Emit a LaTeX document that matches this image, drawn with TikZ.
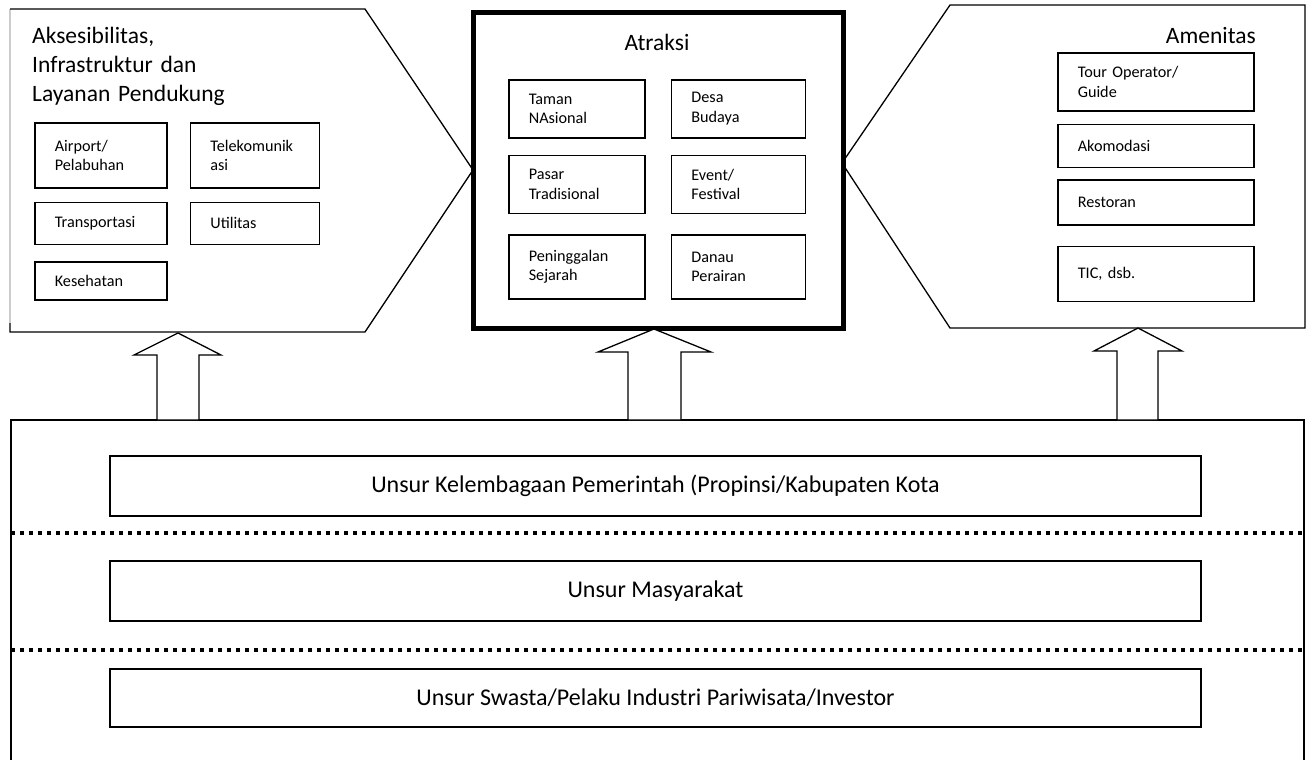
\documentclass[tikz,border=0pt]{standalone}
\usepackage{fontspec}
\setmainfont{Carlito}
\usetikzlibrary{positioning}

\begin{document}
\begin{tikzpicture}[
  x=1pt, y=-1pt,
  big/.style={font=\fontsize{23.5}{29}\selectfont, inner sep=0pt},
  item/.style 2 args={draw, line width=1.6pt, anchor=north west, minimum width=#1, minimum height=#2, text width=#1-40pt, inner xsep=20pt, inner ysep=0pt, align=left, font=\fontsize{16.2}{19.5}\selectfont},
  bar/.style={draw, line width=1.6pt, minimum width=1091pt, minimum height=#1, inner sep=0pt, font=\fontsize{24}{28}\selectfont},
  edge/.style={line width=1.3pt, line join=miter},
  dots/.style={line width=4pt, dash pattern=on 4pt off 5pt},
  blockarr/.style={draw, fill=white, line width=1.3pt, line join=miter},
]
  \useasboundingbox (0,0) rectangle (1312,760);

  % side panels
  \draw[edge, black!20] (10,9) -- (10,323);
  \draw[edge] (10,323) -- (10,332) -- (365,332) -- (473,170) -- (365,9) -- (10,9);
  \draw[edge] (842,163) -- (950,5) -- (1305,5) -- (1305,328) -- (950,328) -- cycle;

  % Atraksi
  \node[draw, line width=5pt, minimum width=370pt, minimum height=315pt, anchor=north west, inner sep=0pt, outer sep=0pt] (atr) at (473,13) {};
  \node[big, anchor=base] (atrtitle) at (657,51) {Atraksi};
  \node[item={136pt}{58pt}] (taman) at (508,79) {Taman\\NAsional};
  \node[item={134pt}{58pt}, right=25pt of taman] (desa) {Desa\\Budaya};
  \node[item={136pt}{58pt}, below=16pt of taman] (pasar) {Pasar\\Tradisional};
  \node[item={134pt}{58pt}, below=16pt of desa] (event) {Event/\\Festival};
  \node[item={136pt}{64pt}, below=20pt of pasar] (peninggalan) {Peninggalan\\Sejarah};
  \node[item={134pt}{64pt}, below=20pt of event] (danau) {Danau\\Perairan};

  % Aksesibilitas
  \node[big, text width=330pt, align=left, anchor=base west] (akstitle) at (32,44) {Aksesibilitas,\\Infrastruktur dan\\Layanan Pendukung};
  \node[item={132pt}{65pt}] (airport) at (34,122) {Airport/\\Pelabuhan};
  \node[item={129pt}{65pt}, right=22pt of airport] (telekom) {Telekomunik\\asi};
  \node[item={132pt}{42pt}, below=13pt of airport] (transport) {Transportasi};
  \node[item={129pt}{42pt}, right=22pt of transport] (utilitas) {Utilitas};
  \node[item={132pt}{38pt}, below=16pt of transport] (kesehatan) {Kesehatan};

  % Amenitas
  \node[big, anchor=base east] (amentitle) at (1256,44) {Amenitas};
  \node[item={196pt}{58pt}] (tour) at (1057,52) {Tour Operator/\\Guide};
  \node[item={196pt}{43pt}, below=12pt of tour] (akomodasi) {Akomodasi};
  \node[item={196pt}{45pt}, below=11pt of akomodasi] (restoran) {Restoran};
  \node[item={196pt}{55pt}, below=20pt of restoran] (tic) {TIC, dsb.};

  % lower frame
  \draw[line width=1.8pt] (11,760) -- (11,420) -- (1304,420) -- (1304,760);
  \draw[dots] (11,533) -- (1304,533);
  \draw[dots] (11,650) -- (1304,650);
  \node[bar=60pt] (pemerintah) at (655.5,486) {Unsur Kelembagaan Pemerintah (Propinsi/Kabupaten Kota};
  \node[bar=60pt] (masyarakat) at (655.5,591) {Unsur Masyarakat};
  \node[bar=58pt] (swasta) at (655.5,698) {Unsur Swasta/Pelaku Industri Pariwisata/Investor};

  % block arrows
  \draw[blockarr] (157,420) -- (157,355) -- (134,355) -- (178,333) -- (221,355) -- (199,355) -- (199,420) -- cycle;
  \draw[blockarr] (628,420) -- (628,352) -- (598,352) -- (654,329) -- (711,352) -- (681,352) -- (681,420) -- cycle;
  \draw[blockarr] (1117,420) -- (1117,351) -- (1094,351) -- (1138,328) -- (1182,351) -- (1158,351) -- (1158,420) -- cycle;
\end{tikzpicture}
\end{document}
